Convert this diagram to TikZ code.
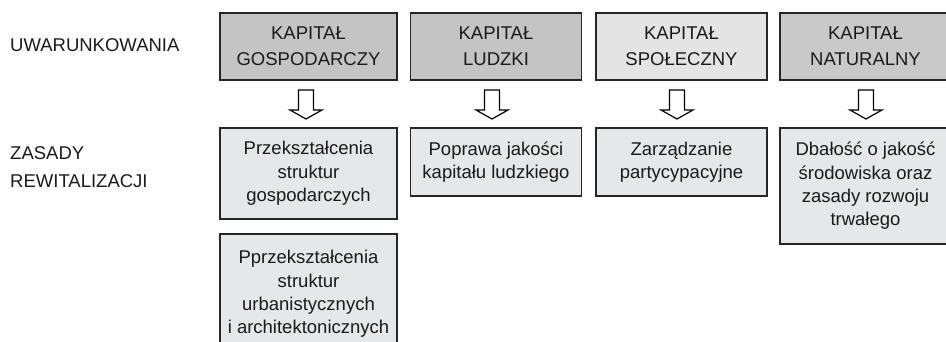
\documentclass[tikz,border=0pt]{standalone}
\usepackage{fontspec}
\setmainfont{Liberation Sans}
\definecolor{txt}{HTML}{1A1A1A}
\definecolor{edge}{HTML}{262626}
\definecolor{darkbox}{HTML}{C4C4C4}
\definecolor{natbox}{HTML}{C9C9C9}
\definecolor{lightbox}{HTML}{E4E4E4}
\definecolor{lowbox}{HTML}{E6E7E8}
\tikzset{
  topbox/.style={draw=edge, line width=1.7pt, fill=darkbox, text=txt, align=center,
    inner sep=0pt, minimum width=171pt, minimum height=67pt,
    font=\fontsize{18.5}{26}\selectfont},
  lowbase/.style={draw=edge, line width=1.7pt, fill=lowbox, text=txt, align=center,
    inner sep=0pt, minimum width=171pt, font=\fontsize{18.5}{23.3}\selectfont},
  sidelabel/.style={text=txt, anchor=base west, inner sep=0pt, font=\fontsize{18.5}{28}\selectfont},
  blockarrow/.style={draw=black, line width=1.2pt, fill=white, line join=miter},
  pics/downarrow/.style={code={
    \draw[blockarrow] (-7.5,0) -- (7.5,0) -- (7.5,20) -- (16,20) -- (0,29) -- (-16,20) -- (-7.5,20) -- cycle;
  }}
}
\begin{document}
\begin{tikzpicture}[x=1pt,y=-1pt]
\useasboundingbox (0,0) rectangle (946,342);
\clip (0,0) rectangle (946,342);
% side labels
\node[sidelabel] (uw) at (10,52) {UWARUNKOWANIA};
\node[sidelabel] (zas) at (10,160) {ZASADY};
\node[sidelabel] (rew) at (10,188) {REWITALIZACJI};
% top boxes
\node[topbox, minimum width=177pt] (t1) at (308.5,46.5) {KAPITAŁ\\GOSPODARCZY};
\node[topbox] (t2) at (496,46.5) {KAPITAŁ\\LUDZKI};
\node[topbox, fill=lightbox] (t3) at (681.5,46.5) {KAPITAŁ\\SPOŁECZNY};
\node[topbox, fill=natbox] (t4) at (865.5,46.5) {KAPITAŁ\\NATURALNY};
% arrows
\pic at (306,90) {downarrow};
\pic at (492,90) {downarrow};
\pic at (677,90) {downarrow};
\pic at (866,90) {downarrow};
% bottom boxes
\node[lowbase, minimum width=177pt, minimum height=91pt] (b1) at (308.5,173.5) {Przekształcenia\\struktur\\gospodarczych};
\node[lowbase, minimum height=68pt] (b2) at (496,162) {Poprawa jakości\\kapitału ludzkiego};
\node[lowbase, minimum height=68pt] (b3) at (681.5,162) {Zarządzanie\\partycypacyjne};
\node[lowbase, minimum height=116pt] (b4) at (865.5,186) {Dbałość o jakość\\środowiska oraz\\zasady rozwoju\\trwałego};
\node[lowbase, minimum width=177pt, minimum height=120pt] (b5) at (308.5,294) {Pprzekształcenia\\struktur\\urbanistycznych\\i architektonicznych};
\end{tikzpicture}
\end{document}
